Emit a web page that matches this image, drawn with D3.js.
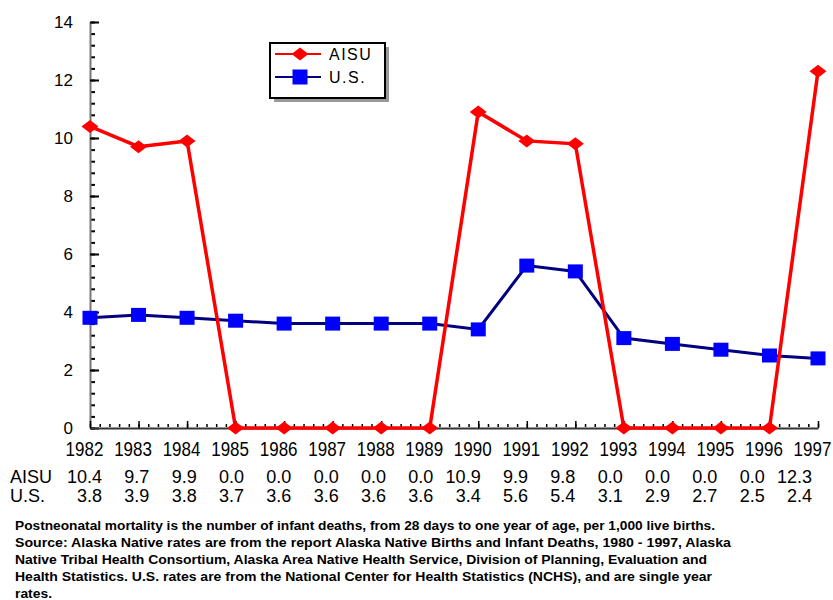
<!DOCTYPE html>
<html>
<head>
<meta charset="utf-8">
<script src="https://cdn.jsdelivr.net/npm/d3@7"></script>
<style>
  body { margin: 0; background: #fff; }
  text { font-family: "Liberation Sans", Arial, sans-serif; }
  .note { font-family: "Liberation Sans Narrow", "Liberation Sans", sans-serif; font-weight: bold; font-size: 13px; }
</style>
</head>
<body>
<div id="chart"></div>
<script>
// chart data
var years = [1982, 1983, 1984, 1985, 1986, 1987, 1988, 1989, 1990, 1991, 1992, 1993, 1994, 1995, 1996, 1997];
var aisu = [10.4, 9.7, 9.9, 0.0, 0.0, 0.0, 0.0, 0.0, 10.9, 9.9, 9.8, 0.0, 0.0, 0.0, 0.0, 12.3];
var us = [3.8, 3.9, 3.8, 3.7, 3.6, 3.6, 3.6, 3.6, 3.4, 5.6, 5.4, 3.1, 2.9, 2.7, 2.5, 2.4];
var yTicks = [0, 2, 4, 6, 8, 10, 12, 14];
var seriesNames = ["AISU", "U.S."];
var notes = [
    "Postneonatal mortality is the number of infant deaths, from 28 days to one year of age, per 1,000 live births.",
    "Source: Alaska Native rates are from the report Alaska Native Births and Infant Deaths, 1980 - 1997, Alaska",
    "Native Tribal Health Consortium, Alaska Area Native Health Service, Division of Planning, Evaluation and",
    "Health Statistics.  U.S. rates are from the National Center for Health Statistics (NCHS), and are single year",
    "rates."
];
var noteWidths = [700, 716, 692, 697, 37];

var width = 833, height = 600;
var svg = d3.select("#chart").append("svg")
    .attr("width", width)
    .attr("height", height);

var x = d3.scaleLinear().domain([1982, 1997]).range([90, 818]);
var y = d3.scaleLinear().domain([0, 14]).range([428, 22]);

//Minor ticks first
svg.append("g")
    .attr("transform", "translate(91,0)")
    .call(d3.axisLeft(y).tickValues(d3.range(0, 14.01, 0.4)).tickSize(-4).tickFormat(""))
    .call(function(g){ g.select(".domain").remove(); })
    .selectAll(".tick line").attr("stroke-width", 2);
svg.append("g")
    .attr("transform", "translate(0,427)")
    .call(d3.axisBottom(x).tickValues(d3.range(1982, 1997.01, 0.2)).tickSize(-3).tickFormat(""))
    .call(function(g){ g.select(".domain").remove(); })
    .selectAll(".tick line").attr("stroke-width", 1.5);

//Major y axis
var yAxis = svg.append("g")
    .attr("transform", "translate(90,0)")
    .call(d3.axisLeft(y).tickValues(yTicks).tickSize(-9).tickSizeOuter(0).tickPadding(17));
yAxis.select(".domain").attr("stroke", "#777").attr("stroke-width", 2);
yAxis.selectAll(".tick line").attr("stroke-width", 2);
yAxis.selectAll("text").style("font-size", "17px").attr("fill", "#000");

//Major x axis
var xAxis = svg.append("g")
    .attr("transform", "translate(0,428)")
    .call(d3.axisBottom(x).tickValues(years).tickSize(-7).tickSizeOuter(0).tickPadding(12).tickFormat(d3.format("d")));
xAxis.select(".domain").attr("stroke", "#333").attr("stroke-width", 2);
xAxis.selectAll(".tick line").attr("stroke-width", 1.5);
xAxis.selectAll("text")
    .style("font-size", "17px")
    .attr("fill", "#000")
    .attr("transform", "translate(-6,0) scale(1,1.15)");

var line = d3.line()
    .x(function(d, i){ return x(years[i]); })
    .y(function(d){ return y(d); });

function diamond(w, h){
    return "M0," + (-h/2) + "L" + (w/2) + ",0L0," + (h/2) + "L" + (-w/2) + ",0Z";
}

//U.S. series
svg.append("path")
    .datum(us)
    .attr("fill", "none")
    .attr("stroke", "#000080")
    .attr("stroke-width", 3)
    .attr("d", line);
svg.selectAll(".usPt")
    .data(us)
    .enter()
    .append("rect")
    .attr("class", "usPt")
    .attr("x", function(d, i){ return x(years[i]) - 7.5; })
    .attr("y", function(d){ return y(d) - 7; })
    .attr("width", 15)
    .attr("height", 14)
    .attr("fill", "#0000ff");

//AISU series
svg.append("path")
    .datum(aisu)
    .attr("fill", "none")
    .attr("stroke", "#ff0000")
    .attr("stroke-width", 3.5)
    .attr("d", line);
svg.selectAll(".aisuPt")
    .data(aisu)
    .enter()
    .append("path")
    .attr("class", "aisuPt")
    .attr("transform", function(d, i){ return "translate(" + x(years[i]) + "," + y(d) + ")"; })
    .attr("d", diamond(17, 13))
    .attr("fill", "#ff0000");

//Legend
var legend = svg.append("g").attr("transform", "translate(270,43)");
legend.append("rect")
    .attr("x", 4).attr("y", 4).attr("width", 115).attr("height", 55)
    .attr("fill", "#999");
legend.append("rect")
    .attr("x", 0).attr("y", 0).attr("width", 115).attr("height", 55)
    .attr("fill", "#fff").attr("stroke", "#000").attr("stroke-width", 2);
var legendRows = [
    { name: seriesNames[0], line: "#ff0000", mark: "#ff0000", dy: 11 },
    { name: seriesNames[1], line: "#000080", mark: "#0000ff", dy: 34 }
];
legendRows.forEach(function(r, i){
    var g = legend.append("g").attr("transform", "translate(0," + r.dy + ")");
    g.append("line").attr("x1", 5).attr("x2", 51).attr("stroke", r.line).attr("stroke-width", 2);
    if( i === 0 ){
        g.append("path").attr("transform", "translate(30,0)").attr("d", diamond(17, 13)).attr("fill", r.mark);
    }else{
        g.append("rect").attr("x", 22.5).attr("y", -7.5).attr("width", 15).attr("height", 15).attr("fill", r.mark);
    }
    g.append("text")
        .attr("x", 59).attr("y", 6)
        .style("font-size", "16px")
        .style("letter-spacing", "1.5px")
        .text(r.name);
});

//Value table under the axis
var col = d3.scalePoint().domain(years).range([102, 812]);
var tableRows = [
    { name: seriesNames[0], values: aisu, base: 483 },
    { name: seriesNames[1], values: us, base: 502 }
];
tableRows.forEach(function(r){
    svg.append("text")
        .attr("x", 10).attr("y", r.base)
        .style("font-size", "18px")
        .text(r.name);
    svg.selectAll(null)
        .data(r.values)
        .enter()
        .append("text")
        .attr("x", function(d, i){ return col(years[i]); })
        .attr("y", r.base)
        .attr("text-anchor", "end")
        .style("font-size", "18px")
        .text(function(d){ return d.toFixed(1); });
});

//Footnote
svg.selectAll(".note")
    .data(notes)
    .enter()
    .append("text")
    .attr("class", "note")
    .attr("x", 15)
    .attr("y", function(d, i){ return 530 + i * 17; })
    .attr("textLength", function(d, i){ return noteWidths[i]; })
    .attr("lengthAdjust", "spacingAndGlyphs")
    .text(function(d){ return d; });
</script>
</body>
</html>
